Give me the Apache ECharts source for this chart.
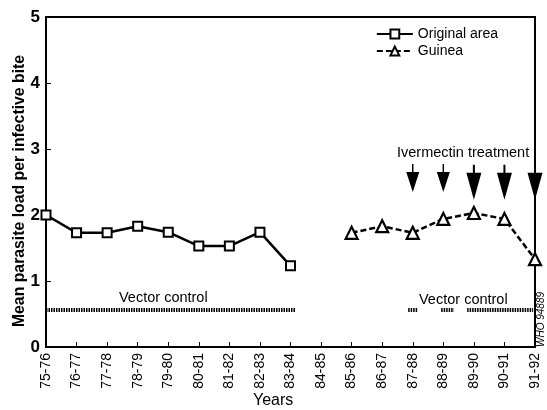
<!DOCTYPE html>
<html><head><meta charset="utf-8">
<script src="https://cdn.jsdelivr.net/npm/echarts@6/dist/echarts.min.js"></script>
<style>html,body{margin:0;padding:0;background:#fff}#c{width:547px;height:410px}</style>
</head><body><div id="c"></div>
<script>
var years = ['75-76','76-77','77-78','78-79','79-80','80-81','81-82','82-83','83-84','84-85','85-86','86-87','87-88','88-89','89-90','90-91','91-92'];
var originalIdx = [0,1,2,3,4,5,6,7,8];
var originalVals = [2.0,1.73,1.73,1.83,1.74,1.53,1.53,1.74,1.23];
var guineaIdx = [10,11,12,13,14,15,16];
var guineaVals = [1.73,1.83,1.73,1.94,2.03,1.94,1.33];
var vcLevel = 0.56;
var vcStart = [0, 11.85, 12.93, 13.78];
var vcEnd = [8.15, 12.17, 13.35, 15.94];
var arrowIdx = [12,13,14,15,16];
var arrowTip = [2.35,2.35,2.23,2.23,2.23];
var arrowBig = [false,false,true,true,true];
var yTicks = [0,1,2,3,4,5];

var FONT = 'Liberation Sans, Arial, sans-serif';
var chart = echarts.init(document.getElementById('c'));
var series = [];
series.push({
  name: 'Original area', type: 'line',
  data: originalIdx.map(function(x,i){return [x, originalVals[i]];}),
  symbol: 'rect', symbolSize: 9, showAllSymbol: true,
  itemStyle: {color: '#fff', borderColor: '#000', borderWidth: 2},
  lineStyle: {color: '#000', width: 2.5}, z: 5
});
series.push({
  name: 'Guinea', type: 'line',
  data: guineaIdx.map(function(x,i){return [x, guineaVals[i]];}),
  symbol: 'triangle', symbolSize: 12,
  itemStyle: {color: '#fff', borderColor: '#000', borderWidth: 2.2},
  lineStyle: {color: '#000', width: 2.5, type: [6,3]}, z: 5
});
vcStart.forEach(function(s,i){
  series.push({
    type: 'line', data: [[s, vcLevel],[vcEnd[i], vcLevel]], symbol: 'none',
    lineStyle: {color: '#000', width: 4, type: [1.5,1]}, silent: true
  });
});
var smallArrow = 'path://M6,0 L7.5,0 L7.5,8 L13.5,8 L6.75,28 L0,8 L6,8 Z';
var bigArrow = 'path://M6.5,0 L8.5,0 L8.5,8 L15,8 L7.5,35 L0,8 L6.5,8 Z';
series.push({
  type: 'scatter',
  data: arrowIdx.map(function(x,i){
    var big = arrowBig[i];
    return {value: [x, arrowTip[i]], symbol: big ? bigArrow : smallArrow,
      symbolSize: big ? [15,35] : [13,28], symbolOffset: [0, '-50%']};
  }),
  itemStyle: {color: '#000', opacity: 1}, silent: true, z: 6
});

chart.setOption({
  backgroundColor: '#fff',
  animation: false,
  textStyle: {fontFamily: FONT},
  grid: {left: 46, right: 12, top: 17, bottom: 63, show: true, borderColor: '#000', borderWidth: 2,
    containLabel: false, outerBoundsMode: 'none'},
  legend: {
    data: ['Original area','Guinea'], orient: 'vertical', right: 44, top: 22,
    itemWidth: 36, itemHeight: 11, itemGap: 3, align: 'left',
    textStyle: {fontFamily: FONT, fontSize: 14, color: '#000'}
  },
  xAxis: {
    type: 'value', min: 0, max: 16, interval: 1,
    axisLine: {lineStyle: {color: '#000', width: 2}},
    axisTick: {inside: true, length: 5, lineStyle: {color: '#000'}},
    splitLine: {show: false},
    axisLabel: {rotate: 90, fontSize: 14, color: '#000', fontFamily: FONT, margin: 6,
      formatter: function(v){return years[v];}}
  },
  yAxis: {
    type: 'value', min: 0, max: 5, interval: 1,
    axisLine: {lineStyle: {color: '#000', width: 2}},
    axisTick: {inside: true, length: 5, lineStyle: {color: '#000'}},
    splitLine: {show: false},
    axisLabel: {fontSize: 17, fontWeight: 'bold', color: '#000', fontFamily: FONT, margin: 6,
      formatter: function(v){return yTicks.indexOf(v) >= 0 ? String(v) : '';}}
  },
  graphic: [
    {type: 'text', x: 20, y: 191, rotation: Math.PI/2, style: {text: 'Mean parasite load per infective bite', font: 'bold 15.8px ' + FONT, fill: '#000', align: 'center', verticalAlign: 'middle'}},
    {type: 'text', left: 397, top: 145, style: {text: 'Ivermectin treatment', font: '14.5px ' + FONT, fill: '#000'}},
    {type: 'text', left: 119, top: 290, style: {text: 'Vector control', font: '14.5px ' + FONT, fill: '#000'}},
    {type: 'text', left: 419, top: 292, style: {text: 'Vector control', font: '14.5px ' + FONT, fill: '#000'}},
    {type: 'text', left: 253, top: 393, style: {text: 'Years', font: '16px ' + FONT, fill: '#000'}},
    {type: 'text', x: 546, y: 347, rotation: Math.PI/2, style: {text: 'WHO 94889', font: 'italic 10px ' + FONT, fill: '#000', align: 'left', verticalAlign: 'bottom'}}
  ],
  series: series
});
</script></body></html>
